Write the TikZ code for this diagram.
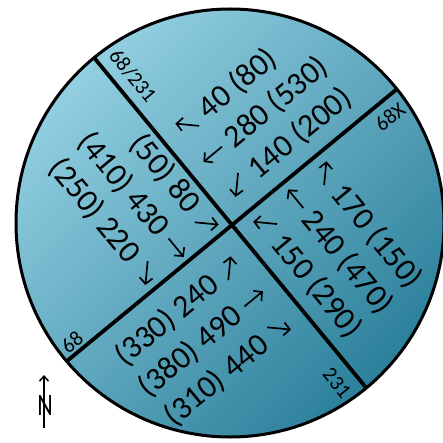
\documentclass[tikz,border=0pt]{standalone}
\usepackage{fontspec}
\setmainfont{Carlito}
\usepackage{amsmath, amssymb}
\usetikzlibrary{arrows.meta}
\usepackage{xcolor}
\definecolor{hellblau}{HTML}{92CFE1}
\definecolor{mittelblau}{HTML}{52ADC7}
\definecolor{dunkelblau}{HTML}{2C809B}
% 矢印 (向き)
\newcommand{\pf}[1]{\tikz[baseline={(0pt,-10pt)}]{\path (-12pt,-12pt) (12pt,12pt);
    \draw[pfeil] (#1+180:12pt) -- (#1:12pt);}}

\begin{document}
\begin{tikzpicture}[x=1pt, y=1pt,
    zahl/.style={font=\fontsize{32}{39}\selectfont, inner sep=0pt},
    strasse/.style={font=\fontsize{21}{21}\selectfont, inner sep=0pt},
    pfeil/.style={line width=1.7pt, -{Straight Barb[length=6pt, width=13pt]}}]
                \useasboundingbox (0,0) rectangle (443,442);

                % 円
                \coordinate (M) at (230,219);
                \coordinate (X) at (232,217);
                \shade[top color=hellblau, middle color=mittelblau, bottom color=dunkelblau, shading angle=45]
                    (M) circle (214);

                % 道路
                \path (X) ++(129.5:260) coordinate (nw) (X) ++(-50.5:260) coordinate (se);
                \path (X) ++(39.5:260) coordinate (ne) (X) ++(219.5:260) coordinate (sw);
                \begin{scope}
                    \clip (M) circle (214);
                    \draw[line width=3.8pt] (nw) -- (se);
                    \draw[line width=3.8pt] (sw) -- (ne);
                \end{scope}
                \draw[line width=3pt] (M) circle (214);

                % 交通量
                \node[zahl, rotate=39.5, anchor=west, align=left] (nord) at (203,279)
                    {\pf{135} 40 (80)\\ \pf{180} 280 (530)\\ \pf{225} 140 (200)};
                \node[zahl, rotate=-50.5, anchor=east, align=right] (west) at (184,184)
                    {(50) 80 \pf{45}\\ (410) 430 \pf{0}\\ (250) 220 \pf{-45}};
                \node[zahl, rotate=-50.5, anchor=west, align=left] (ost) at (287,253)
                    {\pf{135} 170 (150)\\ \pf{180} 240 (470)\\ \pf{225} 150 (290)};
                \node[zahl, rotate=39.5, anchor=east, align=right] (sued) at (264,151)
                    {(330) 240 \pf{45}\\ (380) 490 \pf{0}\\ (310) 440 \pf{-45}};

                % 道路名
                \node[strasse, rotate=-50.5] (r1) at (133,366) {68/231};
                \node[strasse, rotate=39.5] (r2) at (390,325) {68X};
                \node[strasse, rotate=39.5] (r3) at (72,100) {68};
                \node[strasse, rotate=-50.5] (r4) at (337,59) {231};

                % 方位
                \coordinate (fuss) at (44,14);
                \coordinate (spitze) at (44,67);
                \node[font=\fontsize{24}{24}\selectfont, yscale=1.3, inner sep=0pt] (N) at (45,37) {N};
                \draw[line width=1.5pt, -{Straight Barb[length=5pt, width=9pt]}] (fuss) -- (spitze);

            \end{tikzpicture}
\end{document}
